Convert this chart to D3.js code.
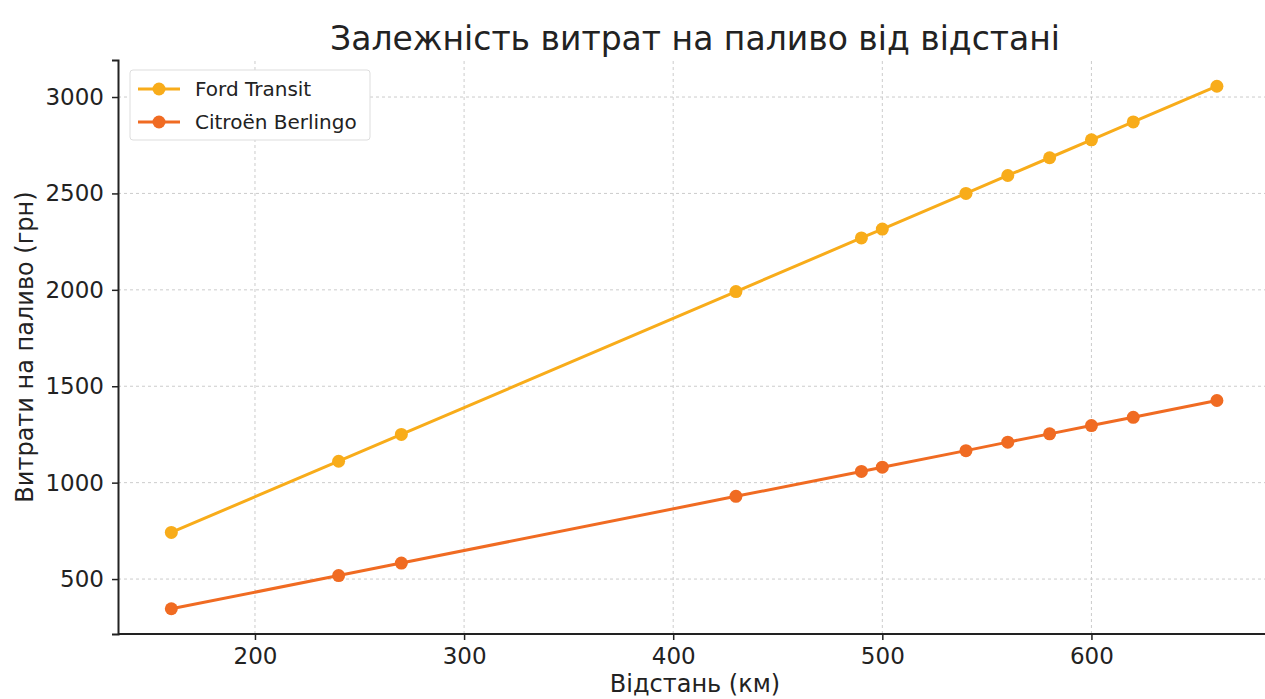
<!DOCTYPE html>
<html>
<head>
<meta charset="utf-8">
<script src="https://cdn.jsdelivr.net/npm/d3@7"></script>
<style>
  body { margin: 0; background: #fff; }
  text { font-family: "DejaVu Sans", sans-serif; fill: #222; }
</style>
</head>
<body>
<script>
(function() {
	"use strict";
	const DISTANCE = [160, 240, 270, 430, 490, 500, 540, 560, 580, 600, 620, 660],
	   FORD = [742, 1111, 1250, 1991, 2269, 2315, 2500, 2593, 2685, 2778, 2871, 3056],
	   CITROEN = [346, 518, 583, 929, 1058, 1080, 1166, 1210, 1253, 1296, 1339, 1426],
	   SERIES_NAMES = ["Ford Transit", "Citroën Berlingo"],
	   X_TICKS = [200, 300, 400, 500, 600],
	   Y_TICKS = [500, 1000, 1500, 2000, 2500, 3000];
	const COLORS = ["#f8ac1a", "#f06b22"];

	const W = 1265, H = 699;
	const svg = d3.select("body").append("svg").attr("width", W).attr("height", H);

	const x = d3.scaleLinear().domain([134.5, 683]).range([118, 1265]);
	const y = d3.scaleLinear().domain([215, 3192]).range([634, 60]);

	// grid
	svg.append("g").selectAll("line").data(X_TICKS).enter().append("line")
		.attr("x1", d => x(d)).attr("x2", d => x(d)).attr("y1", y(215)).attr("y2", y(3192))
		.attr("stroke", "#ccc").attr("stroke-dasharray", "3,3").attr("stroke-width", 1);
	svg.append("g").selectAll("line").data(Y_TICKS).enter().append("line")
		.attr("x1", 118).attr("x2", W).attr("y1", d => y(d)).attr("y2", d => y(d))
		.attr("stroke", "#ccc").attr("stroke-dasharray", "3,3").attr("stroke-width", 1);

	// axes
	const xAxis = svg.append("g").attr("transform", "translate(0,634)")
		.call(d3.axisBottom(x).tickValues(X_TICKS).tickFormat(d3.format("d")).tickSize(6).tickPadding(8));
	const yAxis = svg.append("g").attr("transform", "translate(118,0)")
		.call(d3.axisLeft(y).tickValues(Y_TICKS).tickFormat(d3.format("d")).tickSize(6).tickPadding(8));
	[xAxis, yAxis].forEach(a => {
		a.attr("font-size", null).attr("font-family", null);
		a.select(".domain").attr("stroke", "#222").attr("stroke-width", 2);
		a.selectAll(".tick line").attr("stroke", "#222").attr("stroke-width", 1.5);
		a.selectAll(".tick text").style("font-size", "23px").style("font-family", "DejaVu Sans").attr("fill", "#222");
	});
	xAxis.select(".domain").attr("d", "M118,0H" + W);

	// lines
	const data = [FORD, CITROEN];
	const line = d3.line().x((d, i) => x(DISTANCE[i])).y(d => y(d));
	data.forEach((vals, k) => {
		svg.append("path").datum(vals).attr("d", line)
			.attr("fill", "none").attr("stroke", COLORS[k]).attr("stroke-width", 3);
		svg.append("g").selectAll("circle").data(vals).enter().append("circle")
			.attr("cx", (d, i) => x(DISTANCE[i])).attr("cy", d => y(d)).attr("r", 6.5)
			.attr("fill", COLORS[k]);
	});

	// titles
	svg.append("text").attr("x", 695).attr("y", 50).attr("text-anchor", "middle")
		.style("font-size", "33px").text("Залежність витрат на паливо від відстані");
	svg.append("text").attr("x", 695).attr("y", 692).attr("text-anchor", "middle")
		.style("font-size", "24px").text("Відстань (км)");
	svg.append("text").attr("transform", "translate(33,347) rotate(-90)").attr("text-anchor", "middle")
		.style("font-size", "24px").text("Витрати на паливо (грн)");

	// legend
	const lg = svg.append("g").attr("transform", "translate(130,70)");
	lg.append("rect").attr("width", 240).attr("height", 70).attr("rx", 3)
		.attr("fill", "#fff").attr("stroke", "#ddd");
	SERIES_NAMES.forEach((name, k) => {
		const yy = 19 + k * 33;
		lg.append("line").attr("x1", 8).attr("x2", 50).attr("y1", yy).attr("y2", yy)
			.attr("stroke", COLORS[k]).attr("stroke-width", 3);
		lg.append("circle").attr("cx", 29).attr("cy", yy).attr("r", 6.5).attr("fill", COLORS[k]);
		lg.append("text").attr("x", 65).attr("y", yy + 7).style("font-size", "20px").text(name);
	});
}());
</script>
</body>
</html>
